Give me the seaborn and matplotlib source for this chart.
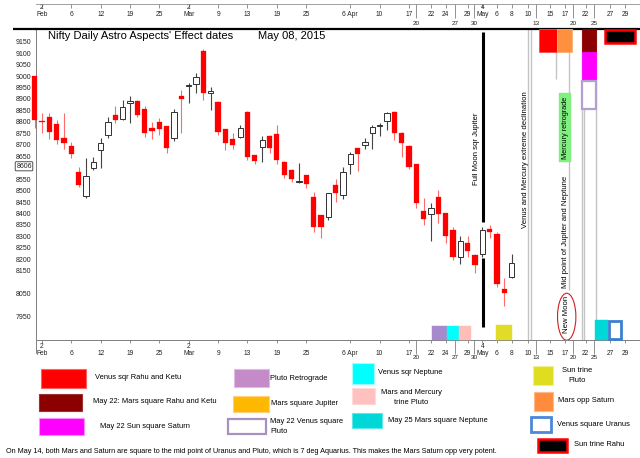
import matplotlib
matplotlib.use("Agg")
import matplotlib.pyplot as plt
import matplotlib.transforms as mtransforms
from matplotlib.patches import Rectangle, Ellipse
import seaborn as sns
import pandas as pd

# ---------------- data (trading-day index 0 = 30 Jan 2015 ... 65 = 8 May 2015) -------------
opens = [9000, 8805, 8820, 8789, 8731, 8695, 8582, 8476, 8600, 8677,
         8743, 8830, 8811, 8881, 8892, 8855, 8772, 8801, 8780, 8728,
         8913, 8955, 8964, 9111, 8927, 8888, 8767, 8725, 8735, 8844,
         8655, 8689, 8740, 8747, 8626, 8590, 8537, 8568, 8473, 8393,
         8386, 8524, 8481, 8616, 8685, 8699, 8753, 8780, 8805, 8844,
         8753, 8696, 8616, 8411, 8397, 8473, 8400, 8328, 8211, 8269,
         8219, 8223, 8332, 8310, 8069, 8124]
highs = [9000, 8840, 8840, 8808, 8839, 8713, 8602, 8641, 8648, 8728,
         8820, 8870, 8895, 8913, 8895, 8869, 8801, 8816, 8782, 8855,
         8939, 8971, 9012, 9117, 8953, 8890, 8770, 8750, 8786, 8847,
         8657, 8738, 8742, 8786, 8628, 8592, 8622, 8570, 8495, 8395,
         8490, 8549, 8602, 8670, 8687, 8728, 8786, 8794, 8842, 8846,
         8755, 8698, 8618, 8466, 8447, 8502, 8402, 8342, 8301, 8301,
         8221, 8342, 8350, 8320, 8117, 8223]
lows = [8773, 8751, 8724, 8703, 8681, 8641, 8514, 8466, 8590, 8597,
        8728, 8794, 8808, 8794, 8820, 8733, 8724, 8743, 8665, 8718,
        8753, 8884, 8925, 8895, 8852, 8743, 8677, 8680, 8730, 8633,
        8616, 8623, 8665, 8616, 8553, 8539, 8535, 8510, 8320, 8291,
        8371, 8451, 8462, 8572, 8587, 8680, 8680, 8738, 8764, 8721,
        8648, 8593, 8422, 8350, 8281, 8357, 8270, 8197, 8180, 8211,
        8139, 8211, 8291, 8080, 7996, 8117]
closes = [8808, 8800, 8757, 8721, 8709, 8658, 8524, 8563, 8625, 8709,
          8801, 8808, 8866, 8892, 8830, 8753, 8761, 8767, 8685, 8844,
          8898, 8957, 8995, 8925, 8935, 8757, 8709, 8699, 8772, 8645,
          8630, 8721, 8685, 8633, 8568, 8549, 8540, 8529, 8339, 8339,
          8488, 8488, 8582, 8658, 8660, 8713, 8776, 8782, 8837, 8750,
          8706, 8604, 8447, 8374, 8425, 8397, 8301, 8211, 8279, 8237,
          8175, 8328, 8320, 8092, 8051, 8185]
day_index = list(range(len(opens)))

ytick_values = [9150, 9100, 9050, 9000, 8950, 8900, 8850, 8800, 8750, 8700, 8650,
                8550, 8500, 8450, 8400, 8350, 8300, 8250, 8200, 8150, 8050, 7950]
last_price = 8606

xtick_pos = [1, 5, 9, 13, 17, 21, 25, 29, 33, 37, 43, 47, 51, 54, 56, 59, 61, 63, 65,
             67.2, 70.2, 72.3, 75.1, 78.4, 80.5]
xtick_lab = ["2\nFeb", "6", "12", "19", "25", "2\nMar", "9", "13", "19", "25", "6 Apr",
             "10", "17", "22", "24", "29", "4\nMay", "6", "8",
             "10", "15", "17", "22", "27", "29"]
xtick_low_pos = [52, 57.3, 59.9, 68.3, 73.4, 76.2]
xtick_low_lab = ["20", "27", "30", "13", "20", "25"]

# event blocks in the chart: x0, x1 (trading-day index), y0, y1 (price)
blk_x0 = [68.75, 71.2, 74.6, 74.6, 74.6, 77.7, 54.2, 56.2, 57.8, 62.9, 76.4, 78.25]
blk_x1 = [71.2, 73.2, 76.5, 76.5, 76.5, 81.8, 56.2, 57.8, 59.5, 65.0, 78.1, 79.95]
blk_y0 = [9106, 9106, 9106, 8983, 8858, 9145, 7847, 7847, 7847, 7847, 7847, 7852]
blk_y1 = [9207, 9207, 9207, 9106, 8980, 9203, 7909, 7909, 7909, 7913, 7935, 7930]
blk_face = ["#FF0000", "#FF9040", "#8B0000", "#FF00FF", "white", "black",
            "#A68ACB", "#00FFFF", "#FFBDB8", "#E0DC28", "#00D8D8", "white"]
blk_edge = ["#FF5050", "#FFB070", "#8B0000", "#FF00FF", "#B4A0D0", "#FF0000",
            "#A68ACB", "#00FFFF", "#FFBDB8", "#E0DC28", "#00D8D8", "#3C80D0"]
blk_lw = [0.6, 0.6, 0.6, 0.6, 1.6, 1.8, 0.3, 0.3, 0.3, 0.3, 0.3, 2.0]

# gray marker lines: x, price from, price to
gline_x = [67.27, 67.59, 71.04, 72.81, 74.6, 74.86, 76.45]
gline_y0 = [7847, 7847, 8985, 8065, 7847, 7847, 7847]
gline_y1 = [9207, 9207, 9207, 9207, 9207, 9207, 9207]

# full-moon line segments
moon_x = 61.15
moon_y0 = [8364, 7905]
moon_y1 = [9191, 8204]

# ---------------- style ----------------
sns.set_theme(style="white")
plt.rcParams["font.family"] = ["Liberation Sans", "DejaVu Sans"]

W, H = 640, 458
fig = plt.figure(figsize=(W / 100, H / 100), dpi=100)
fig.patch.set_facecolor("white")

left_px, right_px, top_px, bot_px = 35.5, 640, 28.7, 340
ax = fig.add_axes([left_px / W, (H - bot_px) / H, (right_px - left_px) / W, (bot_px - top_px) / H])
ax.set_facecolor("white")
ax.set_xlim(0.11, 82.49)
ax.set_ylim(7847.4, 9206.8)

# ---------------- candles ----------------
df = pd.DataFrame({"i": day_index, "o": opens, "h": highs, "l": lows, "c": closes})
df["up"] = df["c"] >= df["o"]
min_h = 5
for _, r in df.iterrows():
    wick_col = "#444444" if r.up else "#FF6A6A"
    ax.vlines(r.i, r.l, r.h, color=wick_col, lw=0.8, zorder=3, clip_on=False)
    lo = min(r.o, r.c)
    hgt = max(abs(r.c - r.o), min_h)
    if r.up:
        b = ax.bar(r.i, hgt, bottom=lo, width=0.72, color="white", edgecolor="#303030",
                   linewidth=0.7, zorder=4)
    else:
        b = ax.bar(r.i, hgt, bottom=lo, width=0.72, color="#FF0000", edgecolor="#FF0000",
                   linewidth=0.2, zorder=4)
    for p in b.patches:
        p.set_clip_on(False)

# ---------------- event marks ----------------
for x, y0, y1 in zip(gline_x, gline_y0, gline_y1):
    ax.vlines(x, y0, y1, color="#C4C4C4", lw=1.0, zorder=1)
for y0, y1 in zip(moon_y0, moon_y1):
    ax.vlines(moon_x, y0, y1, color="black", lw=2.2, zorder=5)

for x0, x1, y0, y1, fc, ec, lw in zip(blk_x0, blk_x1, blk_y0, blk_y1, blk_face, blk_edge, blk_lw):
    ax.add_patch(Rectangle((x0, y0), x1 - x0, y1 - y0, facecolor=fc, edgecolor=ec,
                           linewidth=lw, zorder=6, clip_on=False))

# green label box
ax.add_patch(Rectangle((71.49, 8626), 1.55, 298, facecolor="#80F080", edgecolor="#80F080",
                       lw=0.3, zorder=6))
rot_fs = 5.6
ax.text(72.27, 8775, "Mercury retrograde", rotation=90, ha="center", va="center",
        fontsize=5.3, color="black", zorder=7)
ax.text(60.23, 8684, "Full Moon sqr Jupiter", rotation=90, ha="center", va="center",
        fontsize=rot_fs, color="black", zorder=7)
ax.text(66.86, 8633, "Venus and Mercury extreme declination", rotation=90, ha="center",
        va="center", fontsize=rot_fs, color="black", zorder=7)
ax.text(72.36, 8318, "Mid point of Jupiter and Neptune", rotation=90, ha="center",
        va="center", fontsize=rot_fs, color="black", zorder=7)
ax.text(72.45, 7958, "New Moon", rotation=90, ha="center", va="center",
        fontsize=rot_fs, color="black", zorder=7)
ax.add_patch(Ellipse((72.5, 7949), 2.5, 205, facecolor="none", edgecolor="#D02020",
                     lw=0.8, zorder=7))

# title
ax.text(1.85, 9175, "Nifty Daily Astro Aspects' Effect dates", ha="left", va="center",
        fontsize=8, color="black", zorder=8)
ax.text(30.4, 9175, "May 08, 2015", ha="left", va="center", fontsize=8, color="black", zorder=8)

# ---------------- axes styling ----------------
ax.spines["right"].set_visible(False)
ax.spines["top"].set_color("black")
ax.spines["top"].set_linewidth(1.6)
ax.spines["left"].set_color("#808080")
ax.spines["left"].set_linewidth(0.7)
ax.spines["bottom"].set_color("#808080")
ax.spines["bottom"].set_linewidth(0.7)
ax.plot([(13 - left_px) / (right_px - left_px), 0], [1, 1], transform=ax.transAxes,
        color="black", lw=1.6, clip_on=False, solid_capstyle="butt")
ax.plot([0, 0], [0, -13 / (bot_px - top_px)], transform=ax.transAxes,
        color="#808080", lw=0.7, clip_on=False)

ax.set_yticks(ytick_values)
ax.set_yticklabels([str(v) for v in ytick_values])
ax.tick_params(axis="y", length=0, pad=2.8, labelsize=5, labelcolor="#222222")
ytr = mtransforms.blended_transform_factory(ax.transAxes, ax.transData)
ax.text(-0.0062, last_price, str(last_price), transform=ytr, ha="right", va="center",
        fontsize=5, color="#222222",
        bbox=dict(boxstyle="round,pad=0.15", fc="white", ec="#333333", lw=0.6))

bottom_labels = [l if "\n" in l else "\n" + l for l in xtick_lab]
ax.set_xticks(xtick_pos)
ax.set_xticklabels(bottom_labels)
ax.set_xticks(xtick_low_pos, minor=True)
ax.set_xticklabels(xtick_low_lab, minor=True)
ax.tick_params(axis="x", which="major", direction="out", length=2, width=0.6, pad=0,
               labelsize=4.8, color="#808080", labelcolor="#222222", bottom=True)
ax.tick_params(axis="x", which="minor", direction="out", length=10, width=0.6, pad=1.0,
               labelsize=4.6, color="#808080", labelcolor="#222222", bottom=True)
for t in ax.get_xticklabels():
    t.set_linespacing(1.05)

sec = ax.secondary_xaxis((bot_px - 4) / (bot_px - top_px))
sec.set_xticks(xtick_pos)
sec.set_xticklabels(xtick_lab)
sec.set_xticks(xtick_low_pos, minor=True)
sec.set_xticklabels(xtick_low_lab, minor=True)
sec.tick_params(axis="x", which="major", direction="in", length=3, width=0.6, pad=-10.4,
                labelsize=4.8, color="#808080", labelcolor="#222222")
sec.tick_params(axis="x", which="minor", direction="in", length=10, width=0.6, pad=-16.2,
                labelsize=4.6, color="#808080", labelcolor="#222222")
for t in sec.get_xticklabels():
    t.set_linespacing(1.05)
sec.spines["top"].set_color("#909090")
sec.spines["top"].set_linewidth(0.6)

# ---------------- manual legend (pixel space) ----------------
lax = fig.add_axes([0, 0, 1, 1])
lax.set_xlim(0, W)
lax.set_ylim(H, 0)
lax.axis("off")
lax.patch.set_visible(False)

leg_rect = [
    (41, 369.3, 86, 387.7, "#FF0000", "#FF6060", 0.8),
    (39, 394.3, 82, 411, "#8B0000", "#A03030", 0.8),
    (39, 418.3, 84, 435, "#FF00FF", "#FF90FF", 0.8),
    (234, 369.3, 269, 386.7, "#C58AC8", "#E6B8E6", 0.8),
    (233, 396, 269, 411.7, "#FFB800", "#FFD080", 0.8),
    (227.5, 419.3, 266, 434, "white", "#A890C4", 1.6),
    (352.3, 363.3, 374.3, 384, "#00FFFF", "#A0FFFF", 0.8),
    (352, 387.7, 374.7, 404, "#FFC0C0", "#FFDADA", 0.8),
    (351.7, 413.3, 382.3, 427.7, "#00D8D8", "#60E6E6", 0.8),
    (533.3, 366, 553.3, 385, "#E0DC20", "#F0F090", 0.8),
    (534, 391.7, 553.3, 411, "#FF8C3C", "#FFB888", 0.8),
    (531, 416.7, 550.7, 432.3, "white", "#4A88D8", 2.0),
    (537.7, 438.7, 567.3, 452.3, "black", "#FF0000", 1.8),
]
for x0, y0, x1, y1, fc, ec, lw in leg_rect:
    lax.add_patch(Rectangle((x0, y0), x1 - x0, y1 - y0, facecolor=fc, edgecolor=ec, lw=lw))

leg_fs = 5.4
leg_text = [
    (95, 377.5, "Venus sqr Rahu and Ketu", "left"),
    (93, 401.5, "May 22: Mars square Rahu and Ketu", "left"),
    (100, 426.5, "May 22 Sun square Saturn", "left"),
    (270, 378.5, "Pluto Retrograde", "left"),
    (271, 403.5, "Mars square Jupiter", "left"),
    (270, 426.5, "May 22 Venus square\nPluto", "left"),
    (378, 372.5, "Venus sqr Neptune", "left"),
    (411.5, 397.5, "Mars and Mercury\ntrine Pluto", "center"),
    (388, 420.5, "May 25 Mars square Neptune", "left"),
    (577, 375.5, "Sun trine\nPluto", "center"),
    (558, 400.5, "Mars opp Saturn", "left"),
    (557, 424.5, "Venus square Uranus", "left"),
    (574, 445, "Sun trine Rahu", "left"),
]
for x, y, s, ha in leg_text:
    lax.text(x, y, s, ha=ha, va="center", fontsize=leg_fs, color="#000000",
             linespacing=1.5, multialignment=ha)

lax.text(6, 451.5, "On May 14, both Mars and Saturn are square to the mid point of Uranus and "
         "Pluto, which is 7 deg Aquarius. This makes the Mars Saturn opp very potent.",
         ha="left", va="center", fontsize=5.2, color="#000000")

fig.savefig("out.png", dpi=100, facecolor="white")
